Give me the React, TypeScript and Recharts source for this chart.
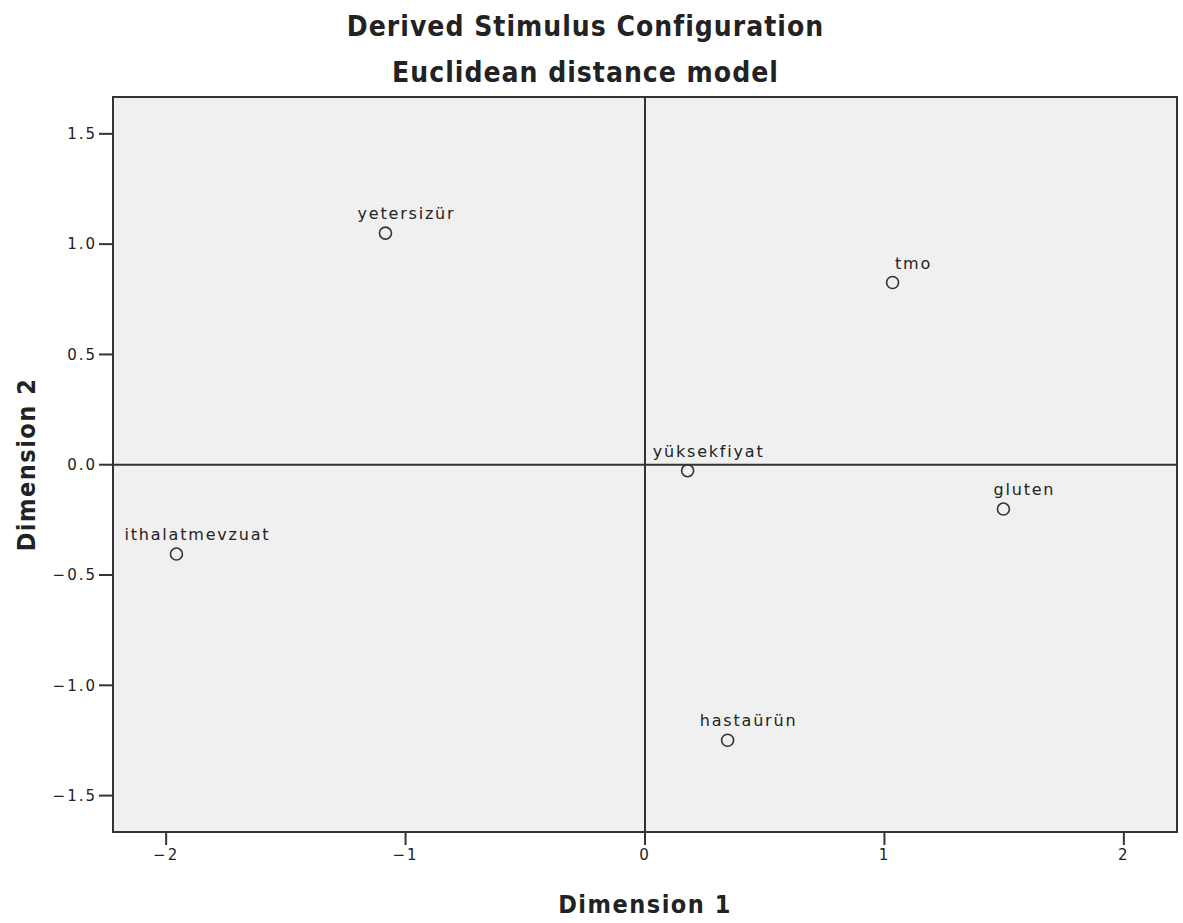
import React from 'react';
import {
  ScatterChart,
  Scatter,
  XAxis,
  YAxis,
  ReferenceArea,
  ReferenceLine,
  Label,
} from 'recharts';

// stimulus names and their coordinates
const names = ['yetersizür', 'tmo', 'yüksekfiyat', 'gluten', 'ithalatmevzuat', 'hastaürün'];
const dim1 = [-1.084, 1.034, 0.178, 1.497, -1.957, 0.345];
const dim2 = [1.05, 0.826, -0.027, -0.201, -0.405, -1.249];

const xTicks = [-2, -1, 0, 1, 2];
const yTicks = [-1.5, -1.0, -0.5, 0.0, 0.5, 1.0, 1.5];

const points = names.map((name, i) => ({ name, x: dim1[i], y: dim2[i] }));

const W = 1183;
const H = 923;
const xDomain: [number, number] = [-2.222, 2.222];
const yDomain: [number, number] = [-1.665, 1.667];

const labelFont = '"DejaVu Sans", sans-serif';
const titleFont = '"DejaVu Sans Condensed", "DejaVu Sans", sans-serif';
const ink = '#333';

if (typeof document !== 'undefined') document.body.style.margin = '0';

const minus = (s: string) => s.replace('-', '\u2212');

const PointShape = (props: any) => {
  const { cx, cy, payload } = props;
  return (
    <g>
      <circle cx={cx} cy={cy} r={6} fill="none" stroke={ink} strokeWidth={1.6} />
      <text
        x={cx + 21}
        y={cy - 14}
        textAnchor="middle"
        fontFamily={labelFont}
        fontSize={16}
        fill="#222"
        style={{ letterSpacing: '1.8px' }}
      >
        {payload.name}
      </text>
    </g>
  );
};

const tickStyle = { fontFamily: labelFont, fontSize: 15, fill: '#222', letterSpacing: '2px' };
const axisTitleStyle = {
  fontFamily: titleFont,
  fontWeight: 'bold',
  fontSize: 25,
  fill: '#222',
  letterSpacing: '1.5px',
};

export default function App() {
  return (
    <div style={{ position: 'relative', width: W, height: H, background: '#fff' }}>
      <div
        style={{
          position: 'absolute',
          top: 4,
          left: 0,
          width: W - 12,
          textAlign: 'center',
          fontFamily: titleFont,
          fontWeight: 'bold',
          fontSize: 28,
          letterSpacing: '1px',
          color: '#222',
          lineHeight: '46px',
        }}
      >
        <div>Derived Stimulus Configuration</div>
        <div>Euclidean distance model</div>
      </div>
      <ScatterChart width={W} height={H} margin={{ top: 97, right: 6, bottom: 0, left: 0 }}>
        <ReferenceArea
          x1={xDomain[0]}
          x2={xDomain[1]}
          y1={yDomain[0]}
          y2={yDomain[1]}
          fill="#f0f0f0"
          fillOpacity={1}
          stroke={ink}
          strokeWidth={2}
        />
        <XAxis
          type="number"
          dataKey="x"
          domain={xDomain}
          ticks={xTicks}
          height={91}
          axisLine={false}
          tickSize={13}
          tickMargin={4}
          tickLine={{ stroke: ink, strokeWidth: 2 }}
          tick={tickStyle}
          tickFormatter={(v: number) => minus(String(v))}
          allowDataOverflow
        >
          <Label value="Dimension 1" position="insideBottom" offset={10} style={axisTitleStyle} />
        </XAxis>
        <YAxis
          type="number"
          dataKey="y"
          domain={yDomain}
          ticks={yTicks}
          width={113}
          axisLine={false}
          tickSize={14}
          tickMargin={2}
          tickLine={{ stroke: ink, strokeWidth: 2 }}
          tick={tickStyle}
          tickFormatter={(v: number) => minus(v.toFixed(1))}
          allowDataOverflow
        >
          <Label
            value="Dimension 2"
            angle={-90}
            position="insideLeft"
            offset={26}
            style={{ ...axisTitleStyle, textAnchor: 'middle' }}
          />
        </YAxis>
        <ReferenceLine x={0} stroke={ink} strokeWidth={2} />
        <ReferenceLine y={0} stroke={ink} strokeWidth={2} />
        <Scatter data={points} shape={PointShape} isAnimationActive={false} />
      </ScatterChart>
    </div>
  );
}
